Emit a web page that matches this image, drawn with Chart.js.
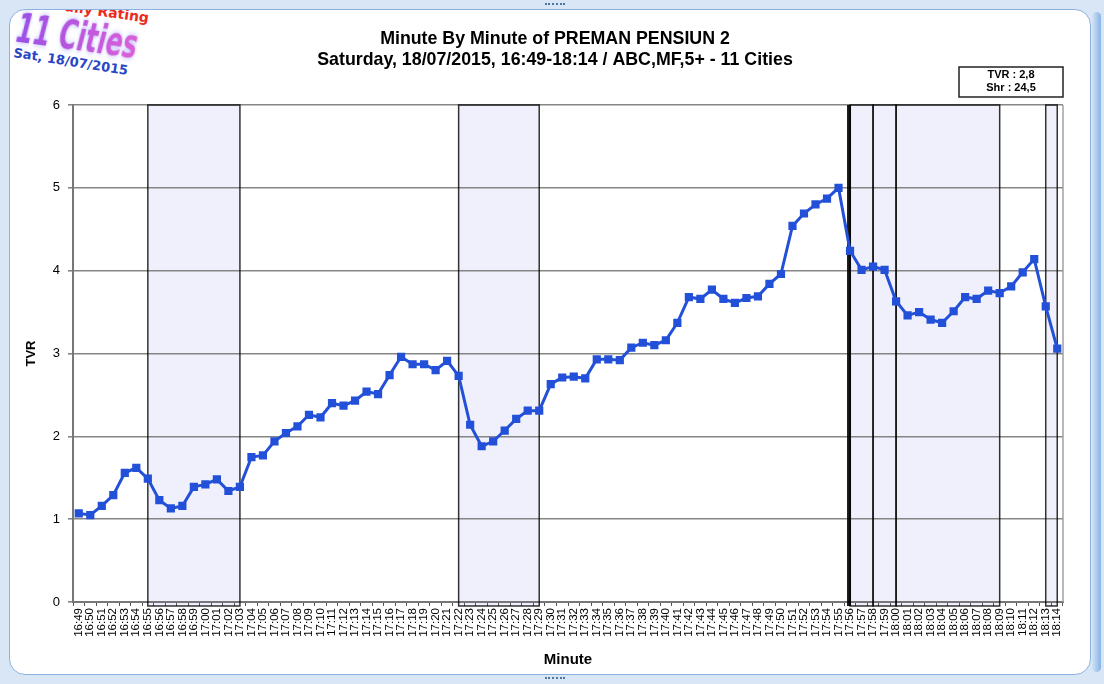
<!DOCTYPE html>
<html>
<head>
<meta charset="utf-8">
<title>Minute By Minute of PREMAN PENSIUN 2</title>
<script src="https://cdn.jsdelivr.net/npm/chart.js@4.4.0/dist/chart.umd.min.js"></script>
<style>
  html, body { margin: 0; padding: 0; }
  body { width: 1104px; height: 684px; position: relative; overflow: hidden; background: #d9e6f6; font-family: "Liberation Sans", Arial, sans-serif; }
  #frame { position: absolute; left: 9px; top: 9px; width: 1080px; height: 664px; background: #fff; border: 1px solid #8db1df; border-radius: 16px; overflow: hidden; }
  #sidebar { position: absolute; left: 1092px; top: 12px; width: 9px; height: 660px; border-radius: 5px; background: linear-gradient(to right, #d3e4f6, #86b3e6); }
  .grip { position: absolute; width: 20px; height: 0; border-top: 2px dotted #4f73a3; }
  .logo { position: absolute; white-space: nowrap; font-family: "DejaVu Sans", sans-serif; font-weight: bold; transform-origin: center center; }
  #logoTop { left: 43px; top: -7px; font-size: 14px; color: #ee2a1c; transform: rotate(8deg); }
  #logoCity { left: -31px; top: 3px; font-size: 40px; font-style: italic; transform: rotate(8deg) scaleX(0.62);
              background: linear-gradient(90deg, #9a4fe6, #dc5fd6); -webkit-background-clip: text; background-clip: text; color: transparent;
              filter: drop-shadow(0 0 3px #b8b8ff); }
  #logoDate { left: 3px; top: 44px; font-size: 13px; color: #2946c6; transform: rotate(9deg); }
  #chart { position: absolute; left: 0; top: 0; }
</style>
</head>
<body>
<div id="sidebar"></div>
<div id="frame">
  <div class="logo" id="logoTop">Daily Rating</div>
  <div class="logo" id="logoCity">11 Cities</div>
  <div class="logo" id="logoDate">Sat, 18/07/2015</div>
</div>
<div class="grip" style="left:545px; top:3px;"></div>
<div class="grip" style="left:545px; top:677px;"></div>
<canvas id="chart" width="1104" height="684"></canvas>
<script>
// 분 단위 레이블 (16:49 ~ 18:14)
const minutes = [
  '16:49','16:50','16:51','16:52','16:53','16:54','16:55','16:56','16:57','16:58',
  '16:59','17:00','17:01','17:02','17:03','17:04','17:05','17:06','17:07','17:08',
  '17:09','17:10','17:11','17:12','17:13','17:14','17:15','17:16','17:17','17:18',
  '17:19','17:20','17:21','17:22','17:23','17:24','17:25','17:26','17:27','17:28',
  '17:29','17:30','17:31','17:32','17:33','17:34','17:35','17:36','17:37','17:38',
  '17:39','17:40','17:41','17:42','17:43','17:44','17:45','17:46','17:47','17:48',
  '17:49','17:50','17:51','17:52','17:53','17:54','17:55','17:56','17:57','17:58',
  '17:59','18:00','18:01','18:02','18:03','18:04','18:05','18:06','18:07','18:08',
  '18:09','18:10','18:11','18:12','18:13','18:14'
];

// 분당 TVR
const tvr = [
  1.07, 1.05, 1.16, 1.29, 1.56, 1.62, 1.49, 1.23, 1.13, 1.16,
  1.39, 1.42, 1.48, 1.34, 1.39, 1.75, 1.77, 1.94, 2.04, 2.12,
  2.26, 2.23, 2.40, 2.37, 2.43, 2.54, 2.51, 2.74, 2.96, 2.87,
  2.87, 2.80, 2.91, 2.73, 2.14, 1.88, 1.94, 2.07, 2.21, 2.31,
  2.31, 2.63, 2.71, 2.72, 2.70, 2.93, 2.93, 2.92, 3.07, 3.13,
  3.10, 3.16, 3.37, 3.68, 3.66, 3.77, 3.66, 3.61, 3.67, 3.69,
  3.84, 3.96, 4.54, 4.69, 4.80, 4.87, 5.00, 4.24, 4.01, 4.05,
  4.01, 3.63, 3.46, 3.50, 3.41, 3.37, 3.51, 3.68, 3.66, 3.76,
  3.73, 3.81, 3.98, 4.14, 3.57, 3.06
];

// 광고 구간 (시작 ~ 끝)
const bandStarts = ['16:55', '17:22', '17:56', '17:58', '18:00', '18:13'];
const bandEnds   = ['17:03', '17:29', '17:58', '18:00', '18:09', '18:14'];
// 굵은 구분선
const breakMarks = ['17:56'];

// Y축 눈금
const yTicks = [0, 1, 2, 3, 4, 5, 6];

// 요약 박스
const summaryNames  = ['TVR', 'Shr'];
const summaryValues = ['2,8', '24,5'];

const titleLines = [
  'Minute By Minute of PREMAN PENSIUN 2',
  'Saturday, 18/07/2015, 16:49-18:14 / ABC,MF,5+ - 11 Cities'
];

// 구간 배경 + 테두리, 제목, 요약 박스 그리기
const bandPlugin = {
  id: 'bands',
  beforeDraw(chart) {
    const { ctx, chartArea, scales: { x } } = chart;
    ctx.save();
    ctx.fillStyle = '#eff0fb';
    bandStarts.forEach((s, i) => {
      const x1 = x.getPixelForValue(minutes.indexOf(s));
      const x2 = x.getPixelForValue(minutes.indexOf(bandEnds[i]));
      ctx.fillRect(x1, chartArea.top, x2 - x1, chartArea.bottom - chartArea.top + 4);
    });
    ctx.restore();
  },
  beforeDatasetsDraw(chart) {
    const { ctx, chartArea, scales: { x } } = chart;
    ctx.save();
    ctx.strokeStyle = 'rgba(0,0,0,0.8)';
    ctx.lineWidth = 1.5;
    bandStarts.forEach((s, i) => {
      const x1 = x.getPixelForValue(minutes.indexOf(s));
      const x2 = x.getPixelForValue(minutes.indexOf(bandEnds[i]));
      ctx.strokeRect(x1, chartArea.top, x2 - x1, chartArea.bottom - chartArea.top + 4);
    });
    ctx.lineWidth = 4;
    ctx.strokeStyle = 'rgba(0,0,0,0.9)';
    breakMarks.forEach(m => {
      const px = x.getPixelForValue(minutes.indexOf(m));
      ctx.beginPath();
      ctx.moveTo(px - 1, chartArea.top);
      ctx.lineTo(px - 1, chartArea.bottom + 4);
      ctx.stroke();
    });
    // 오른쪽 테두리
    ctx.lineWidth = 1.5;
    ctx.strokeStyle = '#a0a0a0';
    ctx.beginPath();
    ctx.moveTo(chartArea.right, chartArea.top);
    ctx.lineTo(chartArea.right, chartArea.bottom);
    ctx.stroke();
    ctx.restore();
  },
  afterDraw(chart) {
    const { ctx, chartArea } = chart;
    ctx.save();
    // 제목 (두 줄)
    ctx.fillStyle = '#000';
    ctx.font = 'bold 17.8px "Liberation Sans", Arial, sans-serif';
    ctx.textAlign = 'center';
    ctx.textBaseline = 'middle';
    titleLines.forEach((t, i) => ctx.fillText(t, 555, 39 + i * 21));

    // 요약 박스
    const w = 104, h = 30;
    const left = chartArea.right - w;
    const top = chartArea.top - 38;
    ctx.fillStyle = '#fff';
    ctx.fillRect(left, top, w, h);
    ctx.strokeStyle = '#222';
    ctx.lineWidth = 1.5;
    ctx.strokeRect(left, top, w, h);
    ctx.fillStyle = '#000';
    ctx.font = 'bold 11px "Liberation Sans", Arial, sans-serif';
    summaryNames.forEach((n, i) => {
      ctx.fillText(n + ' : ' + summaryValues[i], left + w / 2, top + 8 + i * 13);
    });
    ctx.restore();
  }
};

const ctx = document.getElementById('chart').getContext('2d');
new Chart(ctx, {
  type: 'line',
  data: {
    labels: minutes,
    datasets: [{
      label: 'TVR',
      data: tvr,
      borderColor: '#2350d8',
      backgroundColor: '#2350d8',
      borderWidth: 3,
      pointStyle: 'rect',
      pointRadius: 5.8,
      pointBorderWidth: 0,
      tension: 0,
      fill: false
    }]
  },
  options: {
    responsive: false,
    devicePixelRatio: 1,
    animation: false,
    layout: { padding: { left: 24, right: 41, top: 105, bottom: 15 } },
    plugins: {
      legend: { display: false },
      tooltip: { enabled: false },
      title: { display: false }
    },
    scales: {
      x: {
        type: 'category',
        offset: true,
        afterFit(scale) { scale.height = 67; },
        grid: { display: true, drawOnChartArea: false, tickLength: 4, color: '#555', offset: true },
        border: { display: true, color: '#777', width: 2 },
        ticks: {
          autoSkip: false, minRotation: 90, maxRotation: 90, padding: 2,
          color: '#000', font: { family: '"Liberation Sans", Arial, sans-serif', size: 11.5 }
        },
        title: {
          display: true, text: 'Minute', color: '#000', padding: 0,
          font: { family: '"Liberation Sans", Arial, sans-serif', size: 15, weight: 'bold' }
        }
      },
      y: {
        min: 0, max: 6,
        afterFit(scale) { scale.width = 49; },
        afterBuildTicks(scale) { scale.ticks = yTicks.map(v => ({ value: v })); },
        grid: { color: '#858585', lineWidth: 1.6, tickLength: 5 },
        border: { display: true, color: '#777', width: 2 },
        ticks: {
          padding: 8, color: '#000',
          font: { family: '"Liberation Sans", Arial, sans-serif', size: 13 }
        },
        title: {
          display: true, text: 'TVR', color: '#000', padding: 0,
          font: { family: '"Liberation Sans", Arial, sans-serif', size: 13, weight: 'bold' }
        }
      }
    }
  },
  plugins: [bandPlugin]
});
</script>
</body>
</html>
